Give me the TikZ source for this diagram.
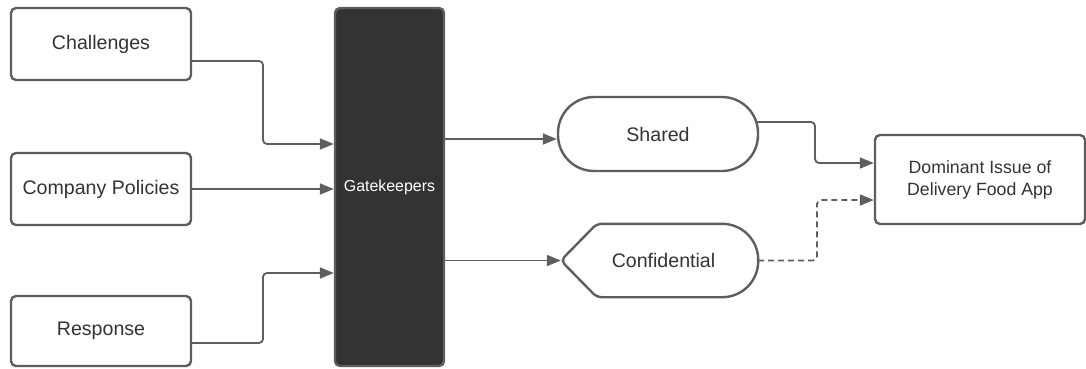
\documentclass[tikz,border=0pt]{standalone}
\usepackage{fontspec}
\setmainfont{Liberation Sans}
\usetikzlibrary{arrows.meta,calc}
\definecolor{edge}{HTML}{5E5E5E}
\definecolor{ink}{HTML}{333333}
\definecolor{gate}{HTML}{333333}
\begin{document}
\begin{tikzpicture}[x=1pt,y=-1pt,
  box/.style={draw=edge,line width=2.4pt,fill=white,rounded corners=5pt,
    inner sep=0pt,text=ink,font=\fontsize{19.6}{23}\selectfont,align=center},
  link/.style={draw=edge,line width=1.8pt,rounded corners=4pt,
    -{Triangle[length=14pt,width=11pt]}},
  dashlink/.style={link,dash pattern=on 6pt off 4pt}]
\useasboundingbox (0,0) rectangle (1086,368);

% sources on the left
\node[box,minimum width=180pt,minimum height=72pt] (chal) at (101,44) {Challenges};
\node[box,minimum width=180pt,minimum height=72pt] (pol) at (101,189) {Company Policies};
\node[box,minimum width=180pt,minimum height=70pt] (resp) at (101,331) {Response};

% gatekeeper bar
\node[draw=edge,line width=2.4pt,fill=gate,rounded corners=5pt,inner sep=0pt,
  minimum width=109pt,minimum height=358pt,text=white,
  font=\fontsize{15.9}{19}\selectfont] (gk) at (389.5,187) {Gatekeepers};

% shared: stadium shape
\node[box,rounded corners=36pt,minimum width=200pt,minimum height=74pt] (shared) at (658,134) {Shared};

% confidential: display shape drawn around an empty node
\node[inner sep=0pt,minimum width=197pt,minimum height=73pt] (conf) at (659.5,260.5) {};
\draw[edge,line width=2.4pt,fill=white,rounded corners=5pt]
  (conf.west) -- ([xshift=36pt]conf.north west)
  [rounded corners=36pt] -- (conf.north east) -- (conf.south east)
  [rounded corners=5pt] -- ([xshift=36pt]conf.south west) -- cycle;
\node[text=ink,font=\fontsize{19.6}{23}\selectfont] at ([xshift=4pt]conf.center) {Confidential};

% target
\node[box,minimum width=210pt,minimum height=89pt,
  font=\fontsize{17.7}{22}\selectfont] (dom) at (980,179.5) {Dominant Issue of\\Delivery Food App};

% connectors into the gatekeepers
\draw[link] ([yshift=-17pt]chal.east) -| (263,120) |- ([yshift=43pt]gk.west);
\draw[link] (pol.east) -- (pol.east -| gk.west);
\draw[link] ([yshift=-12pt]resp.east) -| (263,300) |- ([yshift=-86pt]gk.west);

% connectors out of the gatekeepers
\draw[link] ([yshift=48pt]gk.east) -- ([yshift=-5pt]shared.west);
\draw[link] (gk.east |- conf.west) -- (conf.west);

% to the dominant issue
\draw[link] ([yshift=12pt,xshift=-2pt]shared.east) -| (815,140) |- ([yshift=16.5pt]dom.west);
\draw[dashlink] (conf.east) -| (817,230) |- ([yshift=-20.5pt]dom.west);
\end{tikzpicture}
\end{document}
